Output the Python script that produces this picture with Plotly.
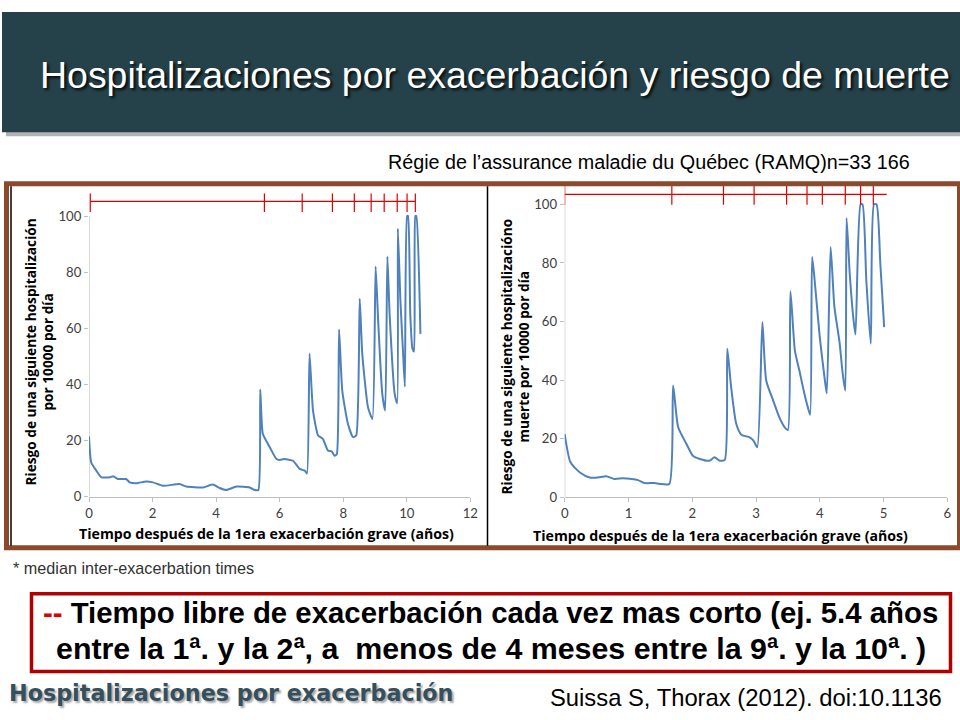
import plotly.graph_objects as go

# ---------------- data ----------------
hosp_x = [0, 0.07, 0.23, 0.39, 0.65, 0.76, 0.91, 1.17, 1.28, 1.49, 1.8, 2.01, 2.33, 2.85, 3.06,
          3.59, 3.9, 4.11, 4.32, 4.64, 5.06, 5.21, 5.33,
          5.39, 5.47, 5.69, 5.9, 6.0, 6.15, 6.42, 6.63, 6.79, 6.86,
          6.94, 7.05, 7.21, 7.36, 7.52, 7.63, 7.73, 7.8,
          7.87, 7.97, 8.15, 8.31, 8.41,
          8.52, 8.6, 8.78, 8.92,
          9.02, 9.1, 9.23, 9.32,
          9.39, 9.46, 9.62, 9.70,
          9.72, 9.8, 9.88, 9.94,
          10.01, 10.04, 10.11, 10.18, 10.23,
          10.27, 10.3, 10.43]
hosp_y = [21.4, 12.2, 9.3, 6.9, 6.9, 7.3, 6.3, 6.3, 5.1, 4.8, 5.4, 5.1, 3.9, 4.5, 3.6,
          3.3, 4.3, 3.1, 2.4, 3.6, 3.3, 2.4, 2.4,
          38.2, 22.4, 17.6, 13.4, 13.1, 13.4, 12.8, 9.9, 9.3, 8.3,
          50.9, 30.7, 21.8, 20.6, 16.4, 16.2, 14.6, 15.2,
          59.6, 37.8, 25.9, 21.2, 21.8,
          70.5, 50.9, 31.9, 27.7,
          82.0, 62.8, 36.6, 30.7,
          85.6, 65.2, 36.6, 33.3,
          95.5, 69.9, 52.1, 39.2,
          100, 100, 65.2, 52.7, 51.7,
          100, 100, 58.0]

death_x = [0, 0.09, 0.24, 0.39, 0.52, 0.65, 0.78, 0.91, 1.05, 1.15, 1.25, 1.41, 1.49, 1.64,
           1.70, 1.78, 1.91, 2.01, 2.12, 2.27, 2.35, 2.43, 2.51,
           2.55, 2.61, 2.69, 2.77, 2.9, 2.96, 3.02,
           3.10, 3.16, 3.27, 3.37, 3.45, 3.50,
           3.54, 3.61, 3.68, 3.76, 3.82, 3.85,
           3.88, 3.92, 4.0, 4.08, 4.11,
           4.17, 4.23, 4.31, 4.36, 4.40,
           4.42, 4.47, 4.53, 4.56,
           4.64, 4.67, 4.73, 4.80,
           4.85, 4.89, 4.95, 5.01]
death_y = [21.6, 12.0, 8.5, 6.8, 6.8, 7.2, 6.3, 6.5, 6.3, 5.9, 4.9, 4.9, 4.6, 4.6,
           38.2, 23.9, 18.2, 14.2, 13.1, 12.5, 13.7, 12.5, 12.8,
           50.7, 37.6, 25.1, 21.4, 20.5, 19.4, 17.1,
           59.8, 39.9, 33.0, 27.1, 23.9, 23.0,
           70.3, 50.1, 43.3, 35.3, 30.2, 28.2,
           82.0, 74.0, 54.7, 39.9, 35.5,
           85.4, 64.9, 53.0, 42.1, 36.4,
           95.3, 76.3, 60.4, 55.6,
           100, 100, 74.0, 52.4,
           100, 100, 79.7, 58.1]

# median inter-exacerbation times (red tick bars)
hosp_ticks = [0.04, 5.52, 6.71, 7.66, 8.35, 8.88, 9.29, 9.70, 10.01, 10.27]
death_ticks = [0.0, 1.68, 2.49, 2.97, 3.48, 3.80, 4.04, 4.40, 4.64, 4.84]
hosp_bar_end = 10.27
death_bar_end = 5.05
hosp_bar_level = 105.2
death_bar_level = 103.4

y_ticks = [0, 20, 40, 60, 80, 100]
hosp_x_ticks = [0, 2, 4, 6, 8, 10, 12]
death_x_ticks = [0, 1, 2, 3, 4, 5, 6]

# ---------------- styles ----------------
DW, DH = 960, 720          # design coordinates (slide pixels)
K = 1.0125                 # figure scale
FW, FH = round(DW * K), round(DH * K)
SANS = "Liberation Sans, Arial, sans-serif"
CHART_FONT = "Open Sans, Lato, sans-serif"
BLUE = "#4F81BD"
RED = "#E00000"

def px(x):
    return x / DW

def py(y):
    return 1 - y / DH

def fs(s):
    return s * K

fig = go.Figure()

# curves
fig.add_trace(go.Scatter(x=hosp_x, y=hosp_y, mode="lines",
                         line=dict(color=BLUE, width=2, shape="spline", smoothing=0.5),
                         xaxis="x", yaxis="y", showlegend=False, hoverinfo="skip"))
fig.add_trace(go.Scatter(x=death_x, y=death_y, mode="lines",
                         line=dict(color=BLUE, width=2, shape="spline", smoothing=0.6),
                         xaxis="x2", yaxis="y2", showlegend=False, hoverinfo="skip"))

# red bars
for ticks, end, lvl, xa, ya in [(hosp_ticks, hosp_bar_end, hosp_bar_level, "x", "y"),
                                (death_ticks, death_bar_end, death_bar_level, "x2", "y2")]:
    fig.add_trace(go.Scatter(x=[ticks[0], end], y=[lvl, lvl], mode="lines",
                             line=dict(color=RED, width=1.2), xaxis=xa, yaxis=ya,
                             showlegend=False, hoverinfo="skip"))
    fig.add_trace(go.Scatter(x=ticks, y=[lvl] * len(ticks), mode="markers",
                             marker=dict(symbol="line-ns", size=15, line=dict(color=RED, width=1.2)),
                             xaxis=xa, yaxis=ya, showlegend=False, hoverinfo="skip"))

tick_font = dict(family="Lato, sans-serif", size=fs(13), color="#404040")
xcommon = dict(showgrid=False, zeroline=False, ticks="outside", ticklen=4, tickcolor="#BFBFBF",
               tickfont=tick_font, showline=True, linecolor="#BFBFBF", linewidth=1.2)
ycommon = dict(showgrid=False, zeroline=False, ticks="outside", ticklen=4, tickcolor="#BFBFBF",
               tickfont=tick_font, showline=False)

fig.update_layout(
    width=FW, height=FH, margin=dict(l=0, r=0, t=0, b=0),
    paper_bgcolor="white", plot_bgcolor="rgba(0,0,0,0)",
    xaxis=dict(domain=[px(85), px(466.3)], range=[0, 12], tickvals=hosp_x_ticks, anchor="y", **xcommon),
    yaxis=dict(domain=[py(496), py(496 - 1.08 * 280.3)], range=[0, 108], tickvals=y_ticks,
               anchor="x", **ycommon),
    xaxis2=dict(domain=[px(560.7), px(943.3)], range=[0, 6], tickvals=death_x_ticks, anchor="y2", **xcommon),
    yaxis2=dict(domain=[py(496.7), py(496.7 - 1.07 * 292.7)], range=[0, 107], tickvals=y_ticks,
                anchor="x2", **ycommon),
)

shapes = []
# header shadow + header
shapes.append(dict(type="rect", xref="paper", yref="paper", x0=px(2), x1=px(975), y0=py(136), y1=py(16),
                   fillcolor="rgba(0,0,0,0.30)", line=dict(width=0), layer="below"))
shapes.append(dict(type="rect", xref="paper", yref="paper", x0=px(-2), x1=px(975), y0=py(132), y1=py(12),
                   fillcolor="#25424A", line=dict(width=0), layer="below"))
# y axis lines (0..100)
shapes.append(dict(type="line", xref="x", yref="y", x0=0, x1=0, y0=0, y1=100,
                   line=dict(color="#BFBFBF", width=1.2), layer="below"))
shapes.append(dict(type="line", xref="x2", yref="y2", x0=0, x1=0, y0=0, y1=100,
                   line=dict(color="#BFBFBF", width=1.2), layer="below"))
# brown frame
shapes.append(dict(type="rect", xref="paper", yref="paper", x0=px(2.5), x1=px(955.5), y0=py(547), y1=py(183.5),
                   fillcolor="rgba(0,0,0,0)", line=dict(color="#8B4A2B", width=5), layer="above"))
# black separators
shapes.append(dict(type="line", xref="paper", yref="paper", x0=px(7), x1=px(7), y0=py(545), y1=py(186),
                   line=dict(color="black", width=1.5)))
shapes.append(dict(type="line", xref="paper", yref="paper", x0=px(483.5), x1=px(483.5), y0=py(545), y1=py(186),
                   line=dict(color="black", width=1.5)))
# red callout box
shapes.append(dict(type="rect", xref="paper", yref="paper", x0=px(27.5), x1=px(946.5), y0=py(670.5), y1=py(593),
                   fillcolor="rgba(0,0,0,0)", line=dict(color="#B00000", width=3.5)))
fig.update_layout(shapes=shapes)

ann = []
def text(x, y, s, size, color="black", family=SANS, xanchor="center", bold=False, angle=0, shadow=None):
    f = dict(family=family, size=fs(size), color=color)
    if bold:
        f["weight"] = "bold"
    if shadow:
        f["shadow"] = shadow
    ann.append(dict(x=px(x), y=py(y), xref="paper", yref="paper", text=s, showarrow=False,
                    xanchor=xanchor, yanchor="middle", font=f, textangle=angle, align="center"))

text(491, 75, "Hospitalizaciones por exacerbación y riesgo de muerte", 37, color="white",
     shadow="2px 2px 3px rgba(0,0,0,0.9)")
text(645, 162, "Régie de l’assurance maladie du Québec (RAMQ)n=33 166", 19.5)
text(35, 352, "Riesgo de una siguiente hospitalización<br>por 10000 por día", 13.5, family=CHART_FONT,
     bold=True, angle=-90)
text(511, 356, "Riesgo de una siguiente hospitalizacióno<br>muerte por 10000 por día", 13.5, family=CHART_FONT,
     bold=True, angle=-90)
text(262, 533, "Tiempo después de la 1era exacerbación grave (años)", 14, family=CHART_FONT, bold=True)
text(716, 535, "Tiempo después de la 1era exacerbación grave (años)", 14, family=CHART_FONT, bold=True)
text(7, 567, "* median inter-exacerbation times", 16, color="#333333", xanchor="left")
text(486, 612, "<span style='color:#E00000'>--</span> Tiempo libre de exacerbación cada vez mas corto (ej. 5.4 años",
     29, bold=True)
text(487, 648, "entre la 1ª. y la 2ª, a  menos de 4 meses entre la 9ª. y la 10ª. )", 30, bold=True)
text(3, 692, "Hospitalizaciones por exacerbación", 22, color="#34505F", family="DejaVu Sans",
     xanchor="left", bold=True, shadow="2px 2px 2px rgba(0,0,0,0.35)")
text(742, 697, "Suissa S, Thorax (2012). doi:10.1136", 23.5)
fig.update_layout(annotations=ann)

fig.write_html(
    "out.html",
    config={"displayModeBar": False},
    post_script=("document.documentElement.style.margin='0';"
                 "document.body.style.margin='0';"),
)
